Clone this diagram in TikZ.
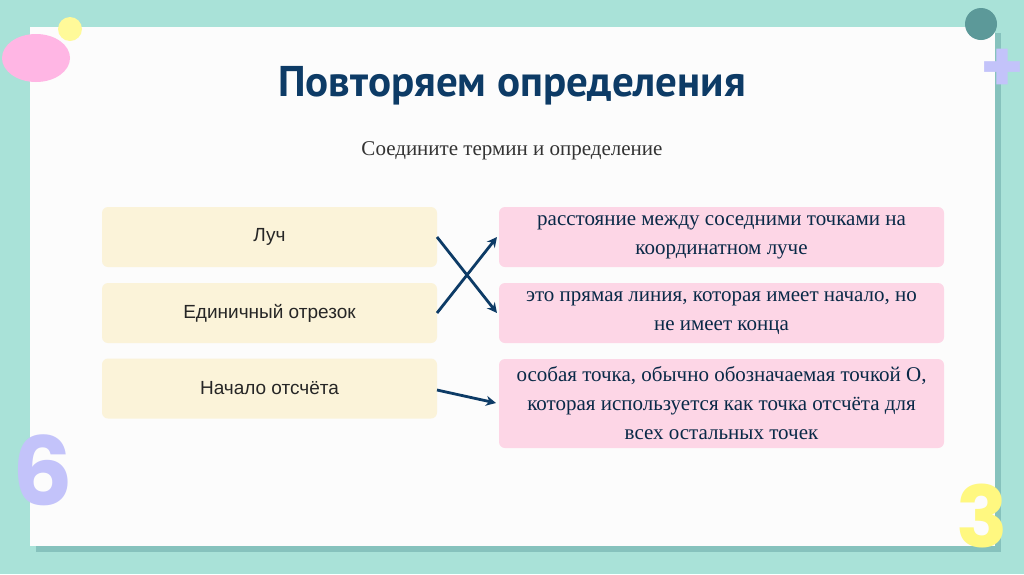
\documentclass[tikz,border=0pt]{standalone}
\usepackage{fontspec}
\setmainfont{Liberation Serif}
\newfontfamily\titlefont{PT Sans}
\newfontfamily\decofont{Poppins}
\newfontfamily\boxfont{Liberation Sans}
\usetikzlibrary{arrows.meta}
\definecolor{bgteal}{HTML}{A9E2D8}
\definecolor{shadowc}{HTML}{86C2BD}
\definecolor{navy}{HTML}{0D3B66}
\definecolor{ylw}{HTML}{FBF3D9}
\definecolor{pnk}{HTML}{FDD6E6}
\definecolor{lav}{HTML}{C3C3FA}
\tikzset{
 lbox/.style={fill=ylw,rounded corners=6pt,minimum width=335pt,minimum height=60pt,font=\boxfont\fontsize{19}{22}\selectfont,text=black!85},
 rbox/.style={fill=pnk,rounded corners=6pt,minimum width=445pt,font=\fontsize{21}{29}\selectfont,text=navy!70!black,align=center},
 link/.style={draw=navy,line width=2.8pt,-{Stealth[length=10pt,width=10pt]}}
}
\begin{document}
\begin{tikzpicture}[x=1pt,y=-1pt]
\useasboundingbox (0,0) rectangle (1024,574);
\fill[bgteal] (0,0) rectangle (1024,574);
\fill[shadowc] (36,33) rectangle (1001,552);
\fill[white!98!gray] (30,27) rectangle (995,546);
\fill[pink!70!magenta!60] (36,58) ellipse (34 and 24);
\fill[yellow!40] (70,29) ellipse (12 and 12);
\fill[teal!60!gray!80] (981,24) circle (16);
\node[text=lav,font=\decofont\bfseries\fontsize{70}{70}\selectfont] (plus) at (1002,70) {+};
\node[text=lav,font=\decofont\bfseries\fontsize{95}{95}\selectfont] (six) at (43,470) {6};
\node[text=yellow!50,font=\decofont\bfseries\fontsize{85}{85}\selectfont] (three) at (982,516) {3};
\node[text=navy,font=\titlefont\bfseries\fontsize{43}{44}\selectfont] (title) at (512,86) {Повторяем определения};
\node[text=black!80,font=\fontsize{21}{24}\selectfont] (sub) at (512,151) {Соедините термин и определение};
\node[lbox] (l1) at (269.5,237) {Луч};
\node[lbox] (l2) at (269.5,313) {Единичный отрезок};
\node[lbox] (l3) at (269.5,388.5) {Начало отсчёта};
\node[rbox,minimum height=60pt] (r1) at (721.5,237) {расстояние между соседними точками на\\координатном луче};
\node[rbox,minimum height=60pt] (r2) at (721.5,313) {это прямая линия, которая имеет начало, но\\не имеет конца};
\node[rbox,minimum height=89pt] (r3) at (721.5,403.5) {особая точка, обычно обозначаемая точкой О,\\которая используется как точка отсчёта для\\всех остальных точек};
\coordinate (a1) at (437,237); \coordinate (a2) at (437,313); \coordinate (a3) at (437,390);
\coordinate (b1) at (497,237); \coordinate (b2) at (497,313); \coordinate (b3) at (496,403);
\draw[link] (a1) -- (b2);
\draw[link] (a2) -- (b1);
\draw[link] (a3) -- (b3);
\end{tikzpicture}
\end{document}
